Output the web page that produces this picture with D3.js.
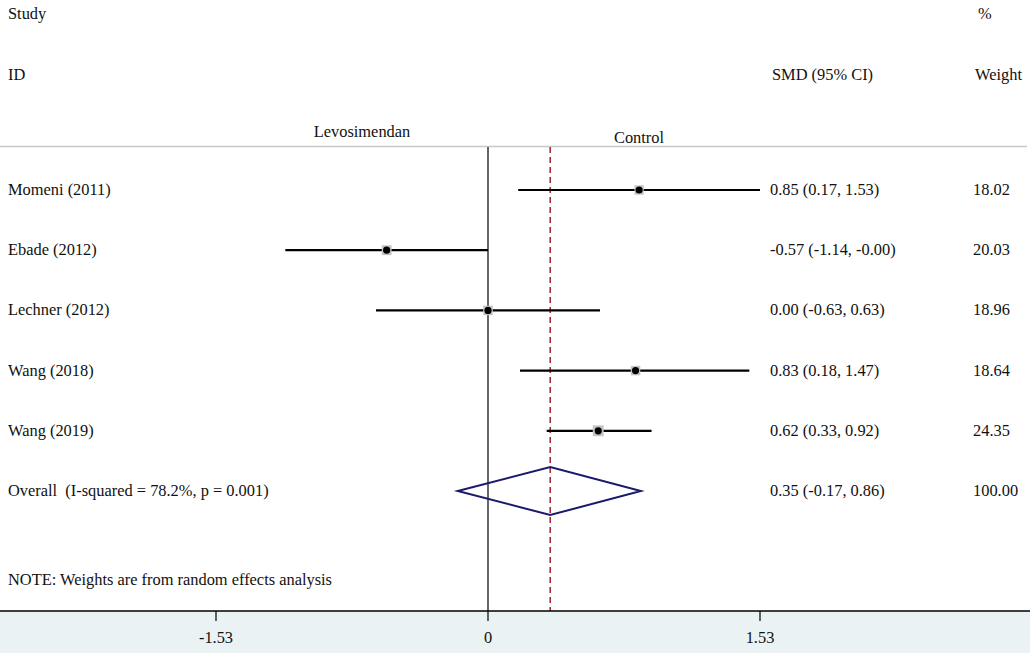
<!DOCTYPE html>
<html>
<head>
<meta charset="utf-8">
<script src="https://cdn.jsdelivr.net/npm/d3@7"></script>
<style>
  html, body { margin: 0; padding: 0; background: #fff; }
  svg { display: block; }
  text { font-family: "Liberation Serif", "DejaVu Serif", serif; font-size: 16.4px; fill: #111; white-space: pre; }
</style>
</head>
<body>
<div id="graphic"></div>
<script>
// studies
const studies = ["Momeni (2011)", "Ebade (2012)", "Lechner (2012)", "Wang (2018)", "Wang (2019)"];
const smd     = [0.85, -0.57, 0.00, 0.83, 0.62];
const lower   = [0.17, -1.14, -0.63, 0.18, 0.33];
const upper   = [1.53, -0.00, 0.63, 1.47, 0.92];
const weights = ["18.02", "20.03", "18.96", "18.64", "24.35"];

// pooled estimate
const overallLabel = "Overall  (I-squared = 78.2%, p = 0.001)";
const overall = { est: 0.35, lo: -0.17, hi: 0.86, weight: "100.00" };

const ticks = [-1.53, 0, 1.53];
const tickLabels = ["-1.53", "0", "1.53"];

const width = 1030, height = 653;
const axisY = 611;

const x = d3.scaleLinear().domain([-1.53, 1.53]).range([216, 760]);
const rows = studies.concat(["overall"]);
const y = d3.scalePoint().domain(rows).range([190, 491]);
const box = d3.scaleSqrt().domain([0, 25]).range([0, 11]);

const svg = d3.create("svg")
    .attr("width", width)
    .attr("height", height)
    .attr("viewBox", [0, 0, width, height]);

// bottom band
svg.append("rect")
    .attr("x", 0).attr("y", axisY)
    .attr("width", width).attr("height", height - axisY)
    .attr("fill", "#eaf2f4");

// headers
svg.append("text").attr("x", 8).attr("y", 19).text("Study");
svg.append("text").attr("x", 8).attr("y", 80).text("ID");
svg.append("text").attr("x", 978).attr("y", 19).text("%");
svg.append("text").attr("x", 975).attr("y", 80).text("Weight");
svg.append("text").attr("x", 772).attr("y", 80).text("SMD (95% CI)");
svg.append("text").attr("x", 362).attr("y", 137).attr("text-anchor", "middle").text("Levosimendan");
svg.append("text").attr("x", 639).attr("y", 143).attr("text-anchor", "middle").text("Control");

// top rule
svg.append("line")
    .attr("x1", 0).attr("x2", 1027)
    .attr("y1", 146.5).attr("y2", 146.5)
    .attr("stroke", "#c8c8c8").attr("stroke-width", 1.5);

// line of no effect
svg.append("line")
    .attr("x1", x(0)).attr("x2", x(0))
    .attr("y1", 147).attr("y2", axisY)
    .attr("stroke", "#000").attr("stroke-width", 1.2);

// pooled estimate line
svg.append("line")
    .attr("x1", x(overall.est)).attr("x2", x(overall.est))
    .attr("y1", 147).attr("y2", axisY)
    .attr("stroke", "#a3202e").attr("stroke-width", 1.5)
    .attr("stroke-dasharray", "6,4");

const data = studies.map((s, i) => ({ name: s, est: smd[i], lo: lower[i], hi: upper[i], w: weights[i] }));

const g = svg.append("g");

// CI lines
g.selectAll("line.ci")
    .data(data)
    .join("line")
    .attr("class", "ci")
    .attr("x1", d => x(d.lo)).attr("x2", d => x(d.hi))
    .attr("y1", d => y(d.name)).attr("y2", d => y(d.name))
    .attr("stroke", "#000").attr("stroke-width", 2.2);

// weight boxes
g.selectAll("rect.box")
    .data(data)
    .join("rect")
    .attr("class", "box")
    .attr("x", d => x(d.est) - box(+d.w) / 2)
    .attr("y", d => y(d.name) - box(+d.w) / 2)
    .attr("width", d => box(+d.w))
    .attr("height", d => box(+d.w))
    .attr("fill", "#c4c4c4");

// point estimates
g.selectAll("circle.pt")
    .data(data)
    .join("circle")
    .attr("class", "pt")
    .attr("cx", d => x(d.est))
    .attr("cy", d => y(d.name))
    .attr("r", 3.6)
    .attr("fill", "#000");

// labels
g.selectAll("text.name")
    .data(data)
    .join("text")
    .attr("class", "name")
    .attr("x", 8)
    .attr("y", d => y(d.name) + 5)
    .text(d => d.name);

// plain hyphen minus, and keep "-0.00"
const fmt = v => (v < 0 || Object.is(v, -0) ? "-" : "") + Math.abs(v).toFixed(2);
const ciText = (e, l, h) => `${fmt(e)} (${fmt(l)}, ${fmt(h)})`;

g.selectAll("text.ci")
    .data(data)
    .join("text")
    .attr("class", "ci")
    .attr("x", 770)
    .attr("y", d => y(d.name) + 5)
    .text(d => ciText(d.est, d.lo, d.hi));

g.selectAll("text.w")
    .data(data)
    .join("text")
    .attr("class", "w")
    .attr("x", 973)
    .attr("y", d => y(d.name) + 5)
    .text(d => d.w);

// overall row
const oy = y("overall");
svg.append("path")
    .attr("d", d3.line()([
        [x(overall.lo), oy],
        [x(overall.est), oy - 24],
        [x(overall.hi), oy],
        [x(overall.est), oy + 24]
    ]) + "Z")
    .attr("fill", "none")
    .attr("stroke", "#1a1a6a")
    .attr("stroke-width", 2);

svg.append("text").attr("x", 8).attr("y", oy + 5).text(overallLabel);
svg.append("text").attr("x", 770).attr("y", oy + 5).text(ciText(overall.est, overall.lo, overall.hi));
svg.append("text").attr("x", 973).attr("y", oy + 5).text(overall.weight);

svg.append("text").attr("x", 8).attr("y", 585).text("NOTE: Weights are from random effects analysis");

// axis
const axis = svg.append("g");
axis.append("line")
    .attr("x1", 0).attr("x2", width)
    .attr("y1", axisY).attr("y2", axisY)
    .attr("stroke", "#000").attr("stroke-width", 1.5);
axis.selectAll("line.tick")
    .data(ticks)
    .join("line")
    .attr("class", "tick")
    .attr("x1", d => x(d)).attr("x2", d => x(d))
    .attr("y1", axisY).attr("y2", axisY + 10)
    .attr("stroke", "#000").attr("stroke-width", 1.2);
axis.selectAll("text")
    .data(ticks)
    .join("text")
    .attr("x", d => x(d))
    .attr("y", 643)
    .attr("text-anchor", "middle")
    .text((d, i) => tickLabels[i]);

document.getElementById("graphic").append(svg.node());
</script>
</body>
</html>
